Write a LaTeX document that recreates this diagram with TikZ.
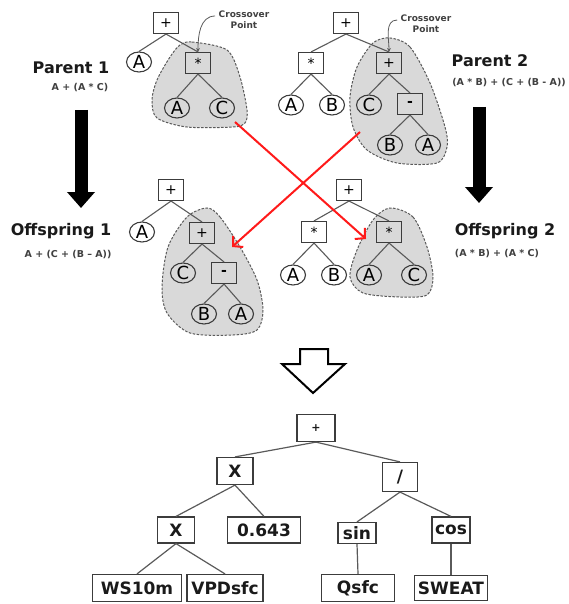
\documentclass[tikz,border=0pt]{standalone}
\usepackage{fontspec}
\setmainfont{DejaVu Sans}
\usetikzlibrary{positioning,arrows.meta,shapes.geometric}
\definecolor{ink}{HTML}{1A1A1A}
\definecolor{edge}{HTML}{5A5A5A}
\definecolor{frame}{HTML}{3C3C3C}
\definecolor{blob}{HTML}{D9D9D9}
\definecolor{note}{HTML}{404040}
\definecolor{cross}{HTML}{FF1A1A}
\newcommand{\ltr}[1]{\smash{\raisebox{-.36em}{#1}}}
\tikzset{
  op/.style   ={draw=frame, line width=1.1pt, minimum width=25pt, minimum height=21pt, inner sep=0pt, font=\fontsize{14}{14}\selectfont},
  lf/.style   ={draw=frame, line width=1.1pt, ellipse, minimum width=25pt, minimum height=20pt, inner sep=0pt, font=\fontsize{18}{18}\selectfont},
  bx/.style   ={draw=frame, line width=1.2pt, minimum height=27pt, inner xsep=3pt, inner ysep=1pt, font=\fontsize{17}{17}\selectfont\bfseries, text=ink},
  ttl/.style  ={font=\fontsize{16}{16}\selectfont\bfseries, text=ink},
  expr/.style ={font=\fontsize{9.5}{9.5}\selectfont\bfseries, text=note},
  cpt/.style  ={font=\fontsize{9}{11}\selectfont\bfseries, text=note, align=center},
  zone/.style ={fill=blob, draw=edge, line width=1pt, dash pattern=on 2.5pt off 1.5pt},
  ln/.style   ={draw=edge, line width=1.1pt},
  cpa/.style  ={draw=edge, line width=.8pt, -{Stealth[length=4pt,width=4pt]}},
  bigarr/.style={draw=black, line width=13pt, -{Triangle[width=27pt,length=16pt]}},
  xo/.style   ={draw=cross, line width=2pt, -{Straight Barb[length=7pt,width=15pt]}},
}
\begin{document}
\begin{tikzpicture}[x=1pt,y=-1pt]
  \useasboundingbox (0,0) rectangle (568,604);
  % crossover regions
  \path[zone] plot[smooth cycle] coordinates {(180,45) (192,42) (227,50) (240,77) (247,110) (245,123) (233,127) (187,127) (157,118) (152,100) (157,80) (170,57)};
  \path[zone] plot[smooth cycle] coordinates {(390,38) (410,47) (430,83) (445,127) (447,147) (437,163) (397,163) (367,150) (353,127) (350,97) (357,67) (373,43)};
  \path[zone] plot[smooth cycle] coordinates {(207,208) (220,217) (240,247) (257,280) (263,310) (257,330) (233,335) (190,333) (167,313) (162,287) (168,247) (187,217)};
  \path[zone] plot[smooth cycle] coordinates {(390,208) (413,217) (427,247) (433,277) (427,295) (400,297) (363,293) (350,277) (357,250) (373,220)};

  % parent 1
  \node[op] (p1r) at (166,23) {+};
  \node[lf] (p1a) at (139,62) {\ltr{A}};
  \node[op] (p1m) at (198,63) {*};
  \node[lf] (p1ma) at (177,108) {\ltr{A}};
  \node[lf] (p1mc) at (222,108) {\ltr{C}};
  % parent 2
  \node[op] (p2r) at (346,23) {+};
  \node[op] (p2m) at (311,63) {*};
  \node[op] (p2p) at (389,63) {+};
  \node[lf] (p2ma) at (291,105) {\ltr{A}};
  \node[lf] (p2mb) at (332,105) {\ltr{B}};
  \node[lf] (p2pc) at (369,105) {\ltr{C}};
  \node[op] (p2s) at (410,104) {\textbf{-}};
  \node[lf] (p2sb) at (390,145) {\ltr{B}};
  \node[lf] (p2sa) at (428,145) {\ltr{A}};
  % offspring 1
  \node[op] (o1r) at (171,190) {+};
  \node[lf] (o1a) at (142,232) {\ltr{A}};
  \node[op] (o1p) at (202,233) {+};
  \node[lf] (o1pc) at (183,273) {\ltr{C}};
  \node[op] (o1s) at (224,273) {\textbf{-}};
  \node[lf] (o1sb) at (204,314) {\ltr{B}};
  \node[lf] (o1sa) at (241,314) {\ltr{A}};
  % offspring 2
  \node[op] (o2r) at (349,190) {+};
  \node[op] (o2m) at (314,232) {*};
  \node[op] (o2n) at (389,232) {*};
  \node[lf] (o2ma) at (293,275) {\ltr{A}};
  \node[lf] (o2mb) at (334,275) {\ltr{B}};
  \node[lf] (o2na) at (369,275) {\ltr{A}};
  \node[lf] (o2nc) at (414,275) {\ltr{C}};

  \foreach \a/\b in {p1r/p1a,p1r/p1m,p1m/p1ma,p1m/p1mc,
                     p2r/p2m,p2r/p2p,p2m/p2ma,p2m/p2mb,p2p/p2pc,p2p/p2s,p2s/p2sb,p2s/p2sa,
                     o1r/o1a,o1r/o1p,o1p/o1pc,o1p/o1s,o1s/o1sb,o1s/o1sa,
                     o2r/o2m,o2r/o2n,o2m/o2ma,o2m/o2mb,o2n/o2na,o2n/o2nc}
    \draw[ln] (\a.south) -- (\b.north);

  % titles
  \node[ttl] (t1) at (71,68) {Parent 1};
  \node[expr] (f1) at (80,88) {A + (A * C)};
  \node[ttl] (t2) at (490,61) {Parent 2};
  \node[expr] (f2) at (509,83) {(A * B) + (C + (B - A))};
  \node[ttl] (t3) at (61,231) {Offspring 1};
  \node[expr] (f3) at (68,255) {A + (C + (B – A))};
  \node[ttl] (t4) at (505,231) {Offspring 2};
  \node[expr] (f4) at (497,254) {(A * B) + (A * C)};

  \node[cpt] (cp1) at (244,20) {Crossover\\Point};
  \node[cpt] (cp2) at (426,24) {Crossover\\Point};
  \draw[cpa] ([yshift=4pt]cp1.west) to[out=180,in=90] (p1m.north);
  \draw[cpa] ([yshift=4pt]cp2.west) to[out=180,in=90] (p2p.north);

  % generation arrows
  \coordinate (a1s) at (81,110);
  \coordinate (a1e) at (81,208);
  \coordinate (a2s) at (479,107);
  \coordinate (a2e) at (479,203);
  \draw[bigarr] (a1s) -- (a1e);
  \draw[bigarr] (a2s) -- (a2e);

  % swap
  \coordinate (r1s) at (235,122);
  \coordinate (r1e) at (366,239);
  \coordinate (r2s) at (360,132);
  \coordinate (r2e) at (232,247);
  \draw[xo] (r1s) -- (r1e);
  \draw[xo] (r2s) -- (r2e);

  % result arrow
  \draw[line width=2pt, line join=miter] (300,349) -- (328,349) -- (328,364) -- (345,364) -- (313,393) -- (282,364) -- (300,364) -- cycle;

  % result tree
  \node[bx, minimum width=38pt, font=\fontsize{11}{11}\selectfont\bfseries] (b0) at (316,428) {+};
  \node[bx, minimum width=36pt] (b1) at (235,471) {X};
  \node[bx, minimum width=35pt, minimum height=29pt] (b2) at (400,477) {/};
  \node[bx, minimum width=37pt, minimum height=26pt] (b3) at (176,530) {X};
  \node[bx, minimum width=73pt, minimum height=26pt] (b4) at (264,530) {0.643};
  \node[bx, minimum width=38pt, minimum height=21pt] (b5) at (357,533) {sin};
  \node[bx, minimum width=37pt, minimum height=26pt] (b6) at (451,530) {cos};
  \node[bx, minimum width=89pt] (b7) at (137,588) {WS10m};
  \node[bx, minimum width=76pt] (b8) at (225,588) {VPDsfc};
  \node[bx, minimum width=73pt] (b9) at (358,588) {Qsfc};
  \node[bx, minimum width=73pt, minimum height=25pt] (b10) at (451,588) {SWEAT};
  \foreach \a/\b in {b0/b1,b0/b2,b1/b3,b1/b4,b2/b5,b2/b6,b3/b7,b3/b8,b5/b9,b6/b10}
    \draw[ln, line width=1.2pt] (\a.south) -- (\b.north);
\end{tikzpicture}
\end{document}
